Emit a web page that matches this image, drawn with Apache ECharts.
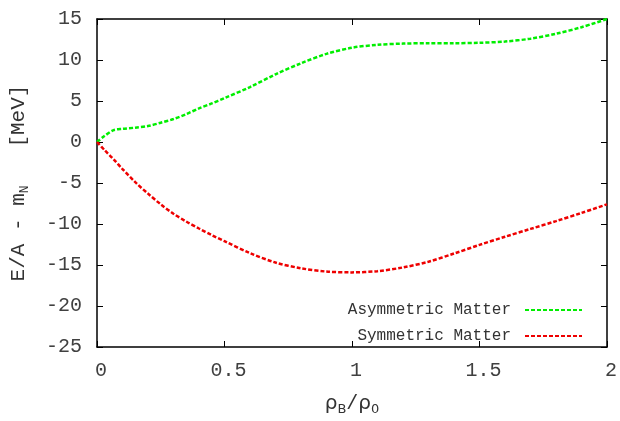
<!DOCTYPE html>
<html><head><meta charset="utf-8">
<script src="https://cdn.jsdelivr.net/npm/echarts@6/dist/echarts.min.js"></script>
<style>html,body{margin:0;padding:0;background:#fff}#c{width:620px;height:421px}</style>
</head><body><div id="c"></div>
<script>
const densityRatio = [0, 0.03, 0.065, 0.1, 0.15, 0.2, 0.25, 0.3, 0.35, 0.4, 0.45, 0.5, 0.6, 0.7, 0.8, 0.9, 1.0, 1.1, 1.2, 1.3, 1.4, 1.5, 1.6, 1.7, 1.8, 1.9, 2.0];
const asymmetricMatter = [0, 0.75, 1.45, 1.6, 1.75, 1.95, 2.35, 2.8, 3.4, 4.1, 4.7, 5.35, 6.7, 8.25, 9.6, 10.75, 11.5, 11.85, 12.0, 12.05, 12.05, 12.1, 12.25, 12.6, 13.2, 14.0, 15.0];
const symmetricMatter = [0, -1.0, -2.1, -3.3, -4.9, -6.3, -7.6, -8.75, -9.7, -10.55, -11.35, -12.1, -13.55, -14.7, -15.4, -15.8, -15.9, -15.75, -15.3, -14.6, -13.6, -12.55, -11.55, -10.6, -9.65, -8.65, -7.6];
const seriesNames = ['Asymmetric Matter', 'Symmetric Matter'];
const seriesColors = ['#00ee00', '#ee0000'];

const FONT = 'Liberation Mono';
const pairs = ys => densityRatio.map((x, i) => [x, ys[i]]);

const chart = echarts.init(document.getElementById('c'), null, {renderer: 'canvas'});
const tickStyle = {show: true, inside: true, length: 6, lineStyle: {color: '#000', width: 1}};
const lineAxis = {show: true, onZero: false, lineStyle: {color: '#000', width: 1.5}};
chart.setOption({
  animation: false,
  backgroundColor: '#fff',
  grid: {left: 95, right: 11, top: 19, bottom: 66},
  legend: {
    orient: 'vertical', right: 32, top: 297, align: 'right',
    itemWidth: 57, itemHeight: 10, itemGap: 10,
    itemStyle: {opacity: 0},
    textStyle: {fontFamily: FONT, fontSize: 16, color: '#333', padding: [0, 9, 0, 0]},
    data: seriesNames
  },
  xAxis: [{
    type: 'value', min: 0, max: 2, interval: 0.5,
    axisLine: lineAxis, axisTick: tickStyle, splitLine: {show: false},
    axisLabel: {fontFamily: FONT, fontSize: 20, color: '#404040', margin: 14, padding: [0, 0, 0, 8],
      formatter: v => String(v)},
    name: '{r|ρ}{s|B}{t|/}{r|ρ}{s|0}', nameLocation: 'middle', nameGap: 44,
    nameTextStyle: {rich: {
      r: {fontFamily: 'DejaVu Sans', fontSize: 20, color: '#333'},
      t: {fontFamily: FONT, fontSize: 20, color: '#333'},
      s: {fontFamily: 'DejaVu Sans', fontSize: 13, color: '#333', padding: [12, 0, 0, 0]}
    }}
  }, {
    type: 'value', min: 0, max: 2, interval: 0.5, position: 'top',
    axisLine: lineAxis, axisTick: tickStyle, axisLabel: {show: false}, splitLine: {show: false}
  }],
  yAxis: [{
    type: 'value', min: -25, max: 15, interval: 5,
    axisLine: lineAxis, axisTick: tickStyle, splitLine: {show: false},
    axisLabel: {fontFamily: FONT, fontSize: 20, color: '#404040', margin: 15},
    name: '{t|E/A - m}{s|N}{t|   [MeV]}', nameLocation: 'middle', nameGap: 66,
    nameTextStyle: {rich: {
      t: {fontFamily: FONT, fontSize: 21, color: '#333'},
      s: {fontFamily: FONT, fontSize: 13, color: '#333', padding: [12, 0, 0, 0]}
    }}
  }, {
    type: 'value', min: -25, max: 15, interval: 5, position: 'right',
    axisLine: lineAxis, axisTick: tickStyle, axisLabel: {show: false}, splitLine: {show: false}
  }],
  series: [
    {name: seriesNames[0], type: 'line', data: pairs(asymmetricMatter), smooth: 0.3, showSymbol: false, symbol: 'none',
     lineStyle: {color: seriesColors[0], width: 2.5, type: [4, 2]}, itemStyle: {color: seriesColors[0]}},
    {name: seriesNames[1], type: 'line', data: pairs(symmetricMatter), smooth: 0.3, showSymbol: false, symbol: 'none',
     lineStyle: {color: seriesColors[1], width: 2.5, type: [4, 2]}, itemStyle: {color: seriesColors[1]}}
  ]
});
</script></body></html>
